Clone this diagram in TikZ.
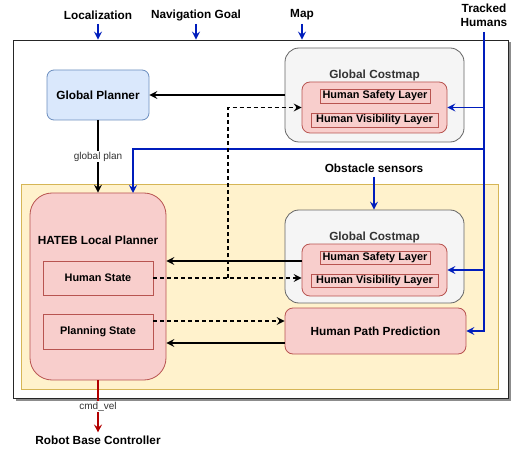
\documentclass[tikz,border=0pt]{standalone}
\usepackage{fontspec}
\setmainfont{Liberation Sans}
\usetikzlibrary{arrows.meta}
\definecolor{blueln}{HTML}{001DBC}
\definecolor{redln}{HTML}{B20000}
\definecolor{gpfill}{HTML}{DAE8FC}
\definecolor{gpdraw}{HTML}{6C8EBF}
\definecolor{grfill}{HTML}{F5F5F5}
\definecolor{grdraw}{HTML}{666666}
\definecolor{rdfill}{HTML}{F8CECC}
\definecolor{rddraw}{HTML}{B85450}
\definecolor{yefill}{HTML}{FFF2CC}
\definecolor{yedraw}{HTML}{D6B656}
\definecolor{txtgrey}{HTML}{333333}
\newcommand\fsz[1]{\fontsize{#1}{14}\selectfont}
\tikzset{
  base/.style={rectangle, inner sep=0pt, line width=0.8pt, font=\fsz{11.8}\bfseries},
  bluebox/.style={base, draw=gpdraw, fill=gpfill, rounded corners=7pt},
  greybox/.style={base, draw=grdraw, fill=grfill, rounded corners=14pt},
  redround/.style={base, draw=rddraw, fill=rdfill, rounded corners=8pt},
  redsq/.style={base, draw=rddraw, fill=rdfill, font=\fsz{10.9}\bfseries},
  layerbox/.style={base, draw=rddraw, fill=rdfill, font=\fsz{10.9}\bfseries, line width=0.7pt},
  gtitle/.style={font=\fsz{11.8}\bfseries, text=txtgrey, inner sep=0pt},
  lbl/.style={font=\fsz{11.8}\bfseries, inner sep=0pt, align=center},
  edgelbl/.style={font=\fsz{10}, text=txtgrey, fill=white, inner sep=1pt},
  tipf/.tip={Stealth[length=8pt,width=8pt,inset=3pt]},
  tipo/.tip={Stealth[open,length=8pt,width=8pt,inset=3pt]},
  conn/.style={line width=1.2pt, -tipf},
  bluearr/.style={line width=1.2pt, draw=blueln, -tipf},
  dasharr/.style={line width=1.2pt, dash pattern=on 4pt off 3pt, -tipo},
  redarr/.style={line width=1.2pt, draw=redln, -tipf}
}
\begin{document}
\begin{tikzpicture}[x=1pt,y=-1pt]
\useasboundingbox (0,0) rectangle (511,449);
% outer frame with shadow
\fill[black!45] (15.5,42.5) rectangle (510.5,400.5);
\node[draw=black!85, fill=white, line width=0.9pt, rectangle, inner sep=0pt, minimum width=495pt, minimum height=358pt] (outer) at (260.5,219) {};
% local area
\node[draw=yedraw, fill=yefill, line width=0.8pt, rectangle, inner sep=0pt, minimum width=476.5pt, minimum height=205pt] (localarea) at (259.75,286.5) {};
% global planner
\node[bluebox, minimum width=102pt, minimum height=50pt] (gp) at (98,95) {Global Planner};
% global costmap (top)
\node[greybox, minimum width=179pt, minimum height=94pt] (gc1) at (374.5,95) {};
\node[gtitle] (gc1t) at (374.5,75) {Global Costmap};
\node[redround, minimum width=145pt, minimum height=51pt] (hl1) at (374.5,107.5) {};
\node[layerbox, minimum width=110pt, minimum height=14pt] (hs1) at (375,96) {Human Safety Layer};
\node[layerbox, minimum width=127pt, minimum height=14pt] (hv1) at (374.5,120) {Human Visibility Layer};
% global costmap (bottom)
\node[greybox, minimum width=179pt, minimum height=93pt] (gc2) at (374.5,256.5) {};
\node[gtitle] (gc2t) at (374.5,237) {Global Costmap};
\node[redround, minimum width=145pt, minimum height=52pt] (hl2) at (374.5,270) {};
\node[layerbox, minimum width=110pt, minimum height=13pt] (hs2) at (375,258) {Human Safety Layer};
\node[layerbox, minimum width=127pt, minimum height=13pt] (hv2) at (374.5,281) {Human Visibility Layer};
% HATEB
\node[redround, rounded corners=22pt, minimum width=136pt, minimum height=187pt] (hateb) at (98,286.5) {};
\node[lbl] (hatebt) at (98,240) {HATEB Local Planner};
\node[redsq, minimum width=110pt, minimum height=34pt] (hstate) at (98,278) {Human State};
\node[redsq, minimum width=110pt, minimum height=35pt] (pstate) at (98,331.5) {Planning State};
% human path prediction
\node[redround, minimum width=181pt, minimum height=46pt] (hpp) at (375.5,331) {Human Path Prediction};
% outside labels
\node[lbl] (loc) at (98,15) {Localization};
\node[lbl] (nav) at (196,15) {Navigation Goal};
\node[lbl] (map) at (302,15) {Map};
\node[lbl] (th) at (484,15) {Tracked\\Humans};
\node[lbl] (obs) at (374,168) {Obstacle sensors};
\node[lbl, inner sep=3pt] (rbc) at (98,440) {Robot Base Controller};
% input arrows
\coordinate (locs) at (98,24);
\coordinate (navs) at (196,24);
\coordinate (maps) at (302,24);
\coordinate (obss) at (374,177);
\draw[bluearr] (locs) -- (locs |- outer.north);
\draw[bluearr] (navs) -- (navs |- outer.north);
\draw[bluearr] (maps) -- (maps |- outer.north);
\draw[bluearr] (obss) -- (obss |- gc2.north);
% tracked humans
\coordinate (thtop) at (484,32);
\coordinate (hin) at (133,193);
\draw[bluearr] (thtop) |- (hpp.east);
\draw[bluearr] (thtop |- hl1.east) -- (hl1.east);
\draw[bluearr] (thtop |- 0,149) -| (hin);
\draw[bluearr] (thtop |- hl2.east) -- (hl2.east);
% black connectors
\draw[conn] (gc1.west) -- (gp.east);
\draw[conn] (gp.south) -- node[edgelbl]{global plan} (hateb.north);
\coordinate (c1) at (302,261);
\draw[conn] (c1) -- (c1 -| hateb.east);
\coordinate (c3) at (285,343);
\draw[conn] (c3) -- (c3 -| hateb.east);
% dashed
\draw[dasharr] (hstate.east) -- (hstate.east -| hl2.west);
\coordinate (dj) at (228,278);
\draw[dasharr] (dj) |- (hl1.west);
\coordinate (c2) at (153,321);
\draw[dasharr] (c2) -- (c2 -| hpp.west);
% output
\draw[redarr] (hateb.south) -- node[edgelbl]{cmd\_vel} (rbc.north);
\end{tikzpicture}
\end{document}
